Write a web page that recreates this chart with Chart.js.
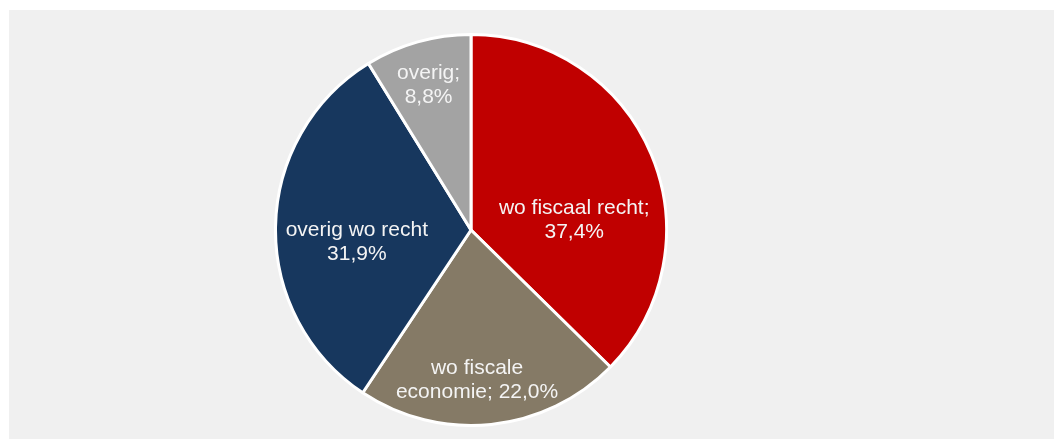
<!DOCTYPE html>
<html>
<head>
<meta charset="utf-8">
<script src="https://cdn.jsdelivr.net/npm/chart.js@4/dist/chart.umd.min.js"></script>
<style>
  html, body { margin: 0; padding: 0; background: #ffffff; }
  #panel { position: absolute; left: 9px; top: 10px; width: 1045px; height: 429px; background: #f0f0f0; }
  #wrap { position: absolute; left: 274px; top: 33px; width: 394px; height: 394px; }
</style>
</head>
<body>
<div id="panel"></div>
<div id="wrap"><canvas id="chart"></canvas></div>
<script>
let categories = ["wo fiscaal recht", "wo fiscale economie", "overig wo recht", "overig"];
let shares = [37.4, 22.0, 31.9, 8.8];
let labelLines = [
    ["wo fiscaal recht;", "37,4%"],
    ["wo fiscale", "economie; 22,0%"],
    ["overig wo recht", "31,9%"],
    ["overig;", "8,8%"]
];
let sliceColors = ["#c00000", "#857a66", "#17375e", "#a3a3a3"];

// label spots, as fractions of the radius from the centre (Excel "best fit" style)
let labelSpots = [[0.528, -0.082], [0.031, 0.735], [-0.584, 0.031], [-0.217, -0.770]];

let sliceLabels = {
    id: "sliceLabels",
    afterDatasetsDraw(chart) {
        let ctx = chart.ctx;
        let arcs = chart.getDatasetMeta(0).data;
        ctx.save();
        ctx.fillStyle = "#f4f4f4";
        ctx.font = "21px 'Liberation Sans', Arial, sans-serif";
        ctx.textAlign = "center";
        ctx.textBaseline = "alphabetic";
        arcs.forEach((arc, i) => {
            let r = arc.outerRadius;
            let x = arc.x + labelSpots[i][0] * r;
            let y = arc.y + labelSpots[i][1] * r;
            labelLines[i].forEach((line, j) => {
                ctx.fillText(line, x, y + j * 24);
            });
        });
        ctx.restore();
    }
};

new Chart("chart", {
    type: "pie",
    data: {
        labels: categories,
        datasets: [{
            data: shares,
            backgroundColor: sliceColors,
            borderColor: "#ffffff",
            borderWidth: 3
        }]
    },
    options: {
        responsive: true,
        maintainAspectRatio: false,
        animation: false,
        layout: { padding: 0 },
        plugins: {
            legend: { display: false },
            tooltip: { enabled: false }
        }
    },
    plugins: [sliceLabels]
});
</script>
</body>
</html>
